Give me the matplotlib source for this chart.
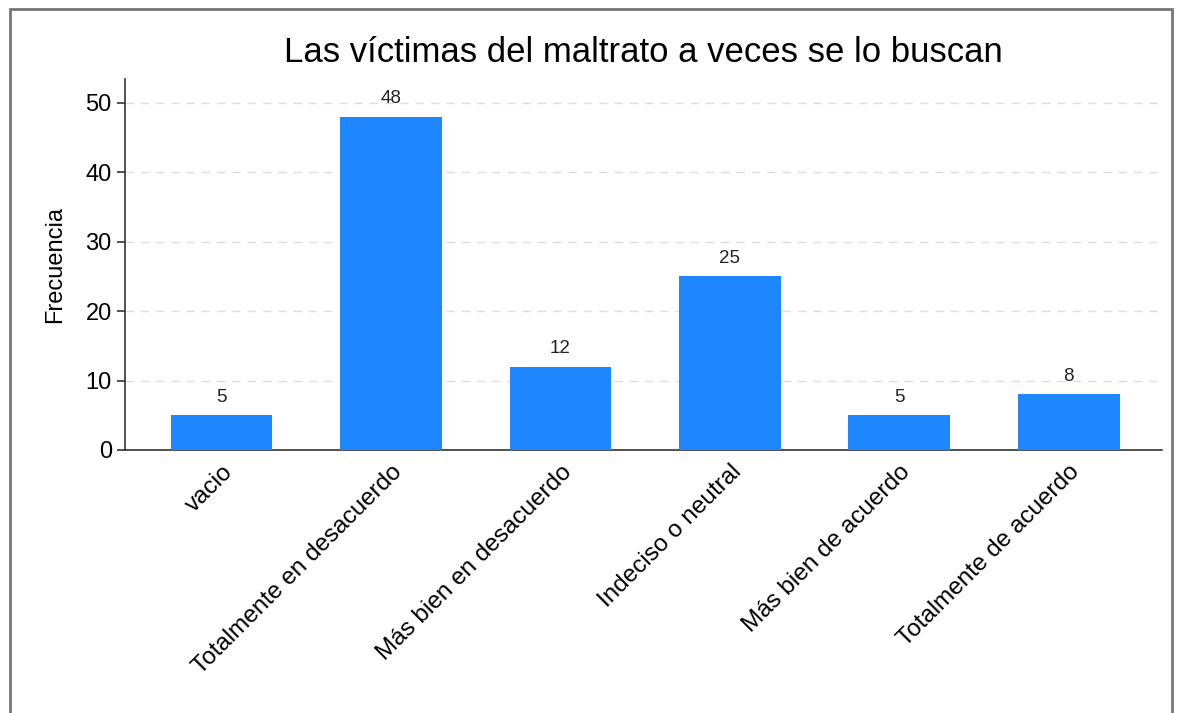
import matplotlib.pyplot as plt
from matplotlib.patches import Rectangle

plt.rcParams['font.family'] = ['Liberation Sans', 'DejaVu Sans']

categorias = ['vacio', 'Totalmente en desacuerdo', 'Más bien en desacuerdo',
              'Indeciso o neutral', 'Más bien de acuerdo', 'Totalmente de acuerdo']
frecuencias = [5, 48, 12, 25, 5, 8]
titulo = 'Las víctimas del maltrato a veces se lo buscan'

fig = plt.figure(figsize=(11.77, 7.13), dpi=100)
ax = fig.add_axes([0.1062, 0.3689, 0.881, 0.5203])

# marco gris alrededor de la figura
fig.patches.append(Rectangle((10 / 1177, -0.05), 1162 / 1177, 1 - 9 / 713 + 0.05,
                             transform=fig.transFigure, fill=False,
                             edgecolor='#777777', linewidth=2))

x = range(len(categorias))
bars = ax.bar(x, frecuencias, width=0.6, color='#1e87ff', zorder=3)

for b, v in zip(bars, frecuencias):
    ax.annotate(str(v), (b.get_x() + b.get_width() / 2, v), xytext=(0, 7),
                textcoords='offset points', ha='center', va='bottom',
                fontsize=13.5, color='#222222')

ax.set_xlim(-0.57, 5.55)
ax.set_ylim(0, 53.4)
ax.set_yticks([0, 10, 20, 30, 40, 50])
ax.set_xticks(list(x))
ax.set_xticklabels(categorias, rotation=45, ha='right', rotation_mode='anchor')
ax.tick_params(axis='x', length=0, labelsize=17.5, pad=8)
ax.tick_params(axis='y', length=6, labelsize=17, color='#333333', width=1.2)

ax.yaxis.grid(True, linestyle=(0, (6, 5)), color='#dddddd', linewidth=1, zorder=0)
ax.set_axisbelow(True)
for s in ['top', 'right']:
    ax.spines[s].set_visible(False)
for s in ['left', 'bottom']:
    ax.spines[s].set_color('#333333')
    ax.spines[s].set_linewidth(1.2)

ax.set_ylabel('Frecuencia', fontsize=17, labelpad=14)
ax.set_title(titulo, fontsize=25, pad=12)

fig.savefig('out.png', dpi=100)
